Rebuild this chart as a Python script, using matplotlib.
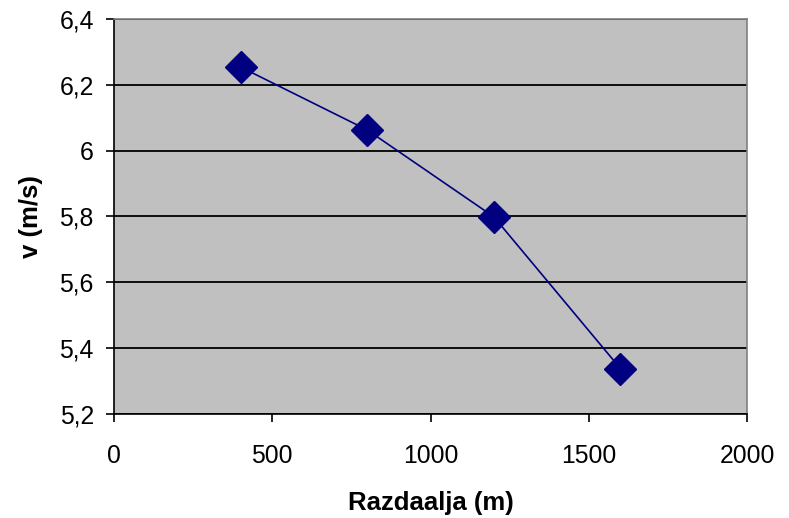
import matplotlib.pyplot as plt
from matplotlib.ticker import FuncFormatter

# data
distance = [400, 800, 1200, 1600]
speed = [6.254, 6.063, 5.799, 5.338]

plt.rcParams['font.family'] = ['Liberation Sans', 'DejaVu Sans']

fig = plt.figure(figsize=(7.89, 5.18), dpi=100)
ax = fig.add_axes([0.1445, 0.2008, 0.8023, 0.7625])
ax.set_facecolor('#c0c0c0')

ax.plot(distance, speed, color='#000080', lw=1.2, marker='D', ms=16,
        markerfacecolor='#000080', markeredgecolor='#000080', zorder=3)

ax.set_xlim(0, 2000)
ax.set_ylim(5.2, 6.4)
ax.set_xticks([0, 500, 1000, 1500, 2000])
ax.set_yticks([5.2, 5.4, 5.6, 5.8, 6.0, 6.2, 6.4])
ax.yaxis.set_major_formatter(FuncFormatter(lambda v, p: ('%g' % round(v, 2)).replace('.', ',')))
ax.grid(axis='y', color='black', lw=1.3)
ax.set_axisbelow(True)

for s in ['top', 'right']:
    ax.spines[s].set_color('#808080')
    ax.spines[s].set_linewidth(1.2)
for s in ['left', 'bottom']:
    ax.spines[s].set_color('black')
    ax.spines[s].set_linewidth(1.2)

ax.tick_params(direction='out', length=5.5, width=1.2, labelsize=17.8)
ax.tick_params(axis='x', pad=16)
ax.tick_params(axis='y', pad=9)
ax.set_xlabel('Razdaalja (m)', fontsize=18.5, fontweight='bold', labelpad=17)
ax.set_ylabel('v (m/s)', fontsize=18.5, fontweight='bold', labelpad=12)

fig.savefig('out.png', dpi=100)
